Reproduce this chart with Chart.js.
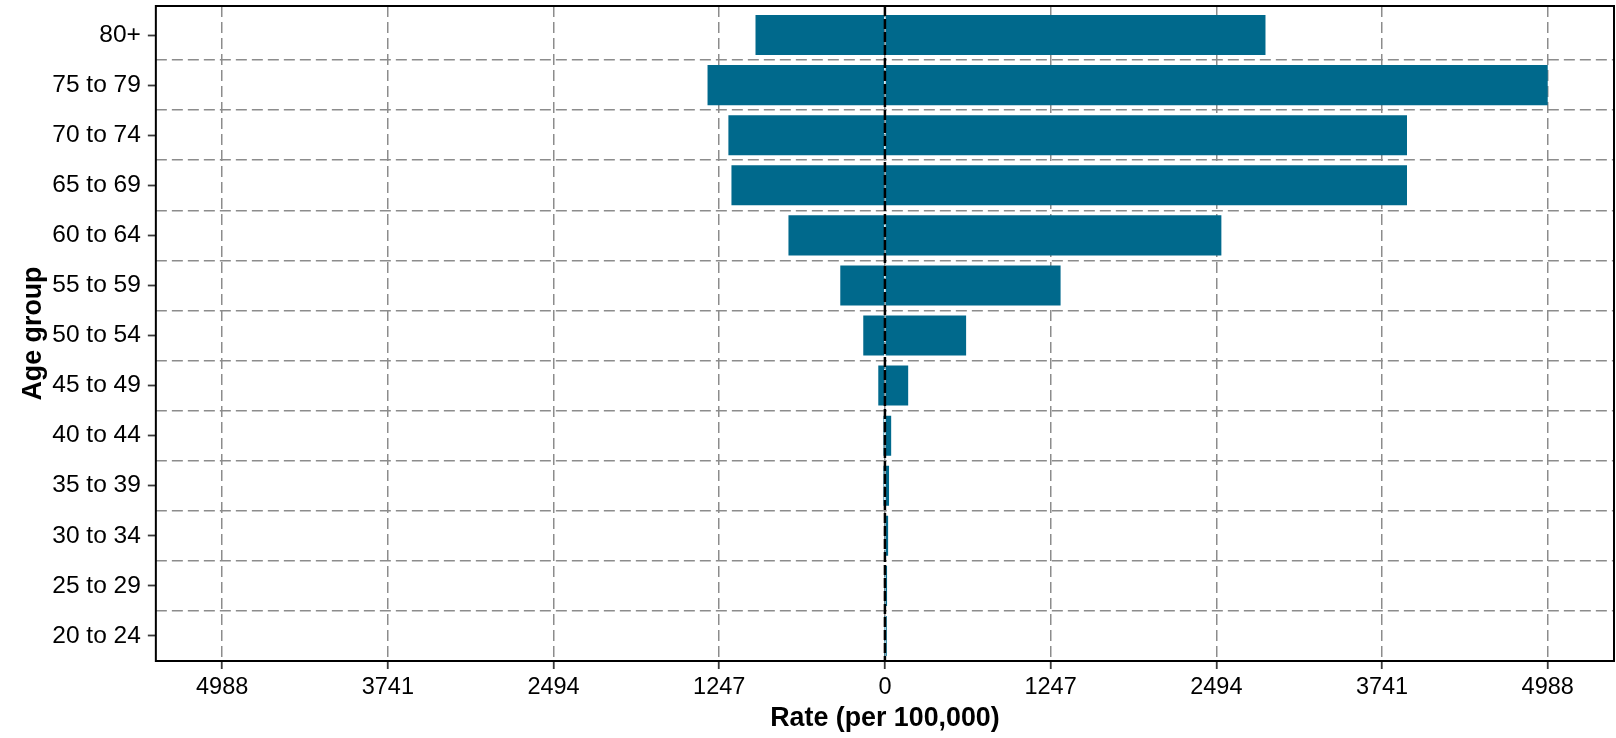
<!DOCTYPE html>
<html>
<head>
<meta charset="utf-8">
<script src="https://cdn.jsdelivr.net/npm/chart.js@4"></script>
<style>
  html, body { margin: 0; padding: 0; background: #ffffff; }
  #wrap { width: 1616px; height: 738px; position: relative; }
</style>
</head>
<body>
<div id="wrap"><canvas id="c"></canvas></div>
<script>
// ---- data ----
const ageGroups = ['80+', '75 to 79', '70 to 74', '65 to 69', '60 to 64', '55 to 59',
                   '50 to 54', '45 to 49', '40 to 44', '35 to 39', '30 to 34', '25 to 29', '20 to 24'];
// left side (drawn to the left of zero), magnitudes
const leftRates  = [974, 1335, 1178, 1155, 726, 336, 163, 50, 11, 11, 4, 3, 2];
// right side
const rightRates = [2864, 4988, 3929, 3929, 2532, 1322, 611, 175, 47, 31, 24, 16, 14];
// x tick values (labels shown as absolute values)
const xTicks = [-4988, -3741, -2494, -1247, 0, 1247, 2494, 3741, 4988];
const xLimit = 5486.8;

const barColor = '#00698c';
const gridColor = '#8c8c8c';
const fontFamily = '"Liberation Sans", Arial, Helvetica, sans-serif';

const frameAndZero = {
  id: 'frameAndZero',
  afterDatasetsDraw(chart) {
    const { ctx, chartArea: a, scales } = chart;
    const x0 = scales.x.getPixelForValue(0);
    ctx.save();
    ctx.strokeStyle = '#000000';
    ctx.lineWidth = 2.5;
    ctx.setLineDash([10, 3]);
    ctx.beginPath();
    ctx.moveTo(x0, a.top);
    ctx.lineTo(x0, a.bottom);
    ctx.stroke();
    ctx.setLineDash([]);
    ctx.lineWidth = 2;
    ctx.strokeRect(a.left, a.top, a.right - a.left, a.bottom - a.top);
    ctx.restore();
  }
};

const noEdgePadding = (axis) => { axis.paddingTop = 0; axis.paddingBottom = 0; };

new Chart(document.getElementById('c'), {
  type: 'bar',
  data: {
    datasets: [
      {
        label: 'left',
        data: leftRates.map((v, i) => ({ x: -v, y: i })),
        backgroundColor: barColor,
        borderWidth: 0,
        grouped: false,
        barPercentage: 0.8,
        categoryPercentage: 1.0
      },
      {
        label: 'right',
        data: rightRates.map((v, i) => ({ x: v, y: i })),
        backgroundColor: barColor,
        borderWidth: 0,
        grouped: false,
        barPercentage: 0.8,
        categoryPercentage: 1.0
      }
    ]
  },
  options: {
    indexAxis: 'y',
    responsive: true,
    maintainAspectRatio: false,
    devicePixelRatio: 1,
    animation: false,
    layout: { padding: { top: 6, right: 2, left: 18.5, bottom: 2 } },
    plugins: {
      legend: { display: false },
      tooltip: { enabled: false }
    },
    scales: {
      x: {
        type: 'linear',
        min: -xLimit,
        max: xLimit,
        afterBuildTicks: (axis) => { axis.ticks = xTicks.map(v => ({ value: v })); },
        ticks: {
          callback: (v) => String(Math.abs(v)),
          color: '#000000',
          font: { family: fontFamily, size: 23.5 },
          padding: 4,
          maxRotation: 0,
          autoSkip: false
        },
        grid: {
          color: gridColor,
          lineWidth: 1.5,
          drawTicks: true,
          tickLength: 8,
          tickColor: '#3a3a3a',
          tickWidth: 1.8
        },
        border: { display: false, dash: [11, 5] },
        title: {
          display: true,
          text: 'Rate (per 100,000)',
          color: '#000000',
          font: { family: fontFamily, size: 26.8, weight: 'bold', lineHeight: 1.0 },
          padding: { top: 0, bottom: 4 }
        }
      },
      y: {
        type: 'linear',
        reverse: true,
        offset: false,
        min: -0.58,
        max: 12.5,
        afterBuildTicks: (axis) => { axis.ticks = ageGroups.map((_, i) => ({ value: i })); },
        afterFit: noEdgePadding,
        ticks: {
          callback: (v) => ageGroups[v],
          color: '#000000',
          font: { family: fontFamily, size: 24.5 },
          padding: 7,
          autoSkip: false
        },
        grid: {
          offset: false,
          drawOnChartArea: false,
          drawTicks: true,
          tickLength: 8,
          tickColor: '#3a3a3a',
          tickWidth: 1.8
        },
        border: { display: false },
        title: {
          display: true,
          text: 'Age group',
          color: '#000000',
          font: { family: fontFamily, size: 26.8, weight: 'bold', lineHeight: 1.0 },
          padding: { top: 2, bottom: -2 }
        }
      },
      y2: {
        type: 'linear',
        position: 'right',
        reverse: true,
        offset: false,
        min: -0.58,
        max: 12.5,
        afterBuildTicks: (axis) => {
          axis.ticks = ageGroups.slice(0, -1).map((_, i) => ({ value: i + 0.5 }));
        },
        afterFit: noEdgePadding,
        ticks: { display: false },
        grid: {
          offset: false,
          color: gridColor,
          lineWidth: 1.5,
          drawTicks: false
        },
        border: { display: false, dash: [11, 5] }
      }
    }
  },
  plugins: [frameAndZero]
});
</script>
</body>
</html>
